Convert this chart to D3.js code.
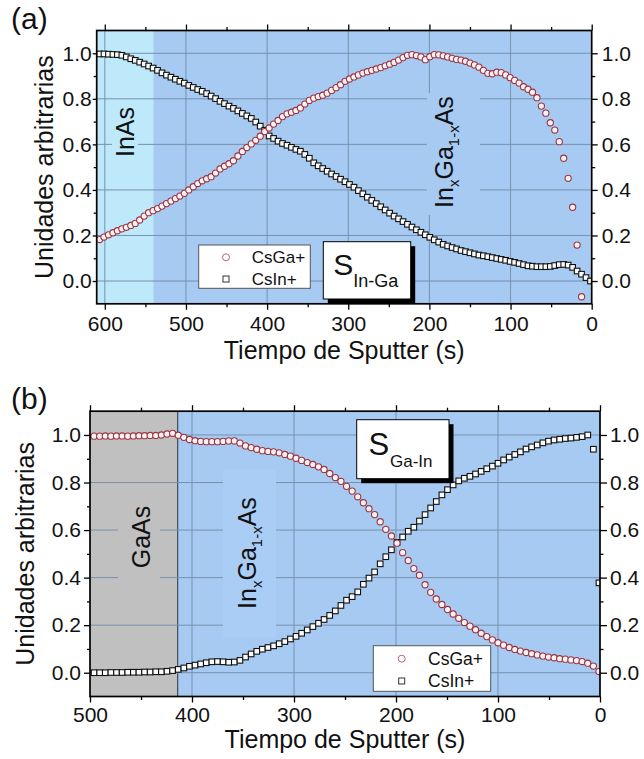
<!DOCTYPE html>
<html>
<head>
<meta charset="utf-8">
<script src="https://cdn.jsdelivr.net/npm/d3@7"></script>
<style>
body { margin: 0; background: #fff; }
svg text { font-family: "Liberation Sans", Arial, sans-serif; fill: #111; }
</style>
</head>
<body>
<script>
var w = 644;
var h = 759;

// ---- data, panel (a): In on Ga ----
var tA = [606.5, 601, 595.5, 590, 584.5, 579, 573.5, 568, 562.5, 557,
  551.5, 546, 540.5, 535, 529.5, 524, 518.5, 513, 507.5, 502,
  496.5, 491, 485.5, 480, 474.5, 469, 463.5, 458, 452.5, 447,
  441.5, 436, 430.5, 425, 419.5, 414, 408.5, 403, 397.5, 392,
  386.5, 381, 375.5, 370, 364.5, 359, 353.5, 348, 342.5, 337,
  331.5, 326, 320.5, 315, 309.5, 304, 298.5, 293, 287.5, 282,
  276.5, 271, 265.5, 260, 254.5, 249, 243.5, 238, 232.5, 227,
  221.5, 216, 210.5, 205, 199.5, 194, 188.5, 183, 177.5, 172,
  166.5, 161, 155.5, 150, 144.5, 139, 133.5, 128, 122.5, 117,
  111.5, 106, 100.5, 95, 89.5, 84, 78.5, 73, 67.5, 62,
  56.5, 51, 45.5, 40, 34.5, 29, 23.5, 18, 12.5, 7, 1.5];
var gaA = [0.182, 0.193, 0.203, 0.212, 0.221, 0.229, 0.236, 0.244, 0.253, 0.268,
  0.285, 0.300, 0.309, 0.318, 0.329, 0.340, 0.351, 0.362, 0.373, 0.385,
  0.400, 0.414, 0.428, 0.440, 0.449, 0.458, 0.474, 0.492, 0.504, 0.515,
  0.528, 0.549, 0.569, 0.586, 0.602, 0.618, 0.636, 0.656, 0.672, 0.689,
  0.705, 0.722, 0.734, 0.741, 0.749, 0.760, 0.777, 0.793, 0.803, 0.810,
  0.816, 0.825, 0.837, 0.849, 0.862, 0.877, 0.887, 0.896, 0.905, 0.913,
  0.919, 0.925, 0.931, 0.937, 0.945, 0.952, 0.960, 0.970, 0.981, 0.991,
  0.994, 0.990, 0.984, 0.972, 0.985, 0.994, 0.993, 0.989, 0.984, 0.978,
  0.973, 0.970, 0.965, 0.957, 0.949, 0.939, 0.925, 0.912, 0.910, 0.917,
  0.915, 0.905, 0.893, 0.881, 0.869, 0.853, 0.842, 0.829, 0.805, 0.768,
  0.737, 0.695, 0.663, 0.612, 0.539, 0.451, 0.324, 0.158, -0.069, null, null];
var inA = [0.997, 0.997, 0.996, 0.995, 0.994, 0.991, 0.984, 0.976, 0.969, 0.961,
  0.953, 0.944, 0.935, 0.925, 0.914, 0.904, 0.895, 0.886, 0.877, 0.869,
  0.859, 0.850, 0.841, 0.833, 0.823, 0.812, 0.801, 0.789, 0.779, 0.768,
  0.758, 0.747, 0.736, 0.725, 0.714, 0.698, 0.680, 0.662, 0.637, 0.626,
  0.614, 0.604, 0.596, 0.587, 0.578, 0.570, 0.556, 0.539, 0.519, 0.506,
  0.494, 0.482, 0.470, 0.459, 0.447, 0.436, 0.424, 0.412, 0.397, 0.383,
  0.368, 0.354, 0.340, 0.326, 0.312, 0.298, 0.285, 0.273, 0.261, 0.249,
  0.237, 0.225, 0.214, 0.203, 0.192, 0.181, 0.171, 0.161, 0.154, 0.147,
  0.141, 0.134, 0.129, 0.124, 0.119, 0.114, 0.111, 0.107, 0.103, 0.099,
  0.095, 0.091, 0.086, 0.082, 0.077, 0.072, 0.067, 0.065, 0.063, 0.063,
  0.063, 0.064, 0.068, 0.072, 0.073, 0.070, 0.060, 0.044, 0.030, 0.015, 0.000];

// ---- data, panel (b): Ga on In ----
var tB = [496, 490.5, 485, 479.5, 474, 468.5, 463, 457.5, 452, 446.5,
  441, 435.5, 430, 424.5, 419, 413.5, 408, 402.5, 397, 391.5,
  386, 380.5, 375, 369.5, 364, 358.5, 353, 347.5, 342, 336.5,
  331, 325.5, 320, 314.5, 309, 303.5, 298, 292.5, 287, 281.5,
  276, 270.5, 265, 259.5, 254, 248.5, 243, 237.5, 232, 226.5,
  221, 215.5, 210, 204.5, 199, 193.5, 188, 182.5, 177, 171.5,
  166, 160.5, 155, 149.5, 144, 138.5, 133, 127.5, 122, 116.5,
  111, 105.5, 100, 94.5, 89, 83.5, 78, 72.5, 67, 61.5,
  56, 50.5, 45, 39.5, 34, 28.5, 23, 17.5, 12, 6.5, 1];
var gaB = [0.995, 0.995, 0.996, 0.995, 0.996, 0.996, 0.995, 0.996, 0.997, 0.997,
  0.998, 0.998, 1.000, 1.004, 1.007, 0.999, 0.990, 0.981, 0.976, 0.973,
  0.972, 0.972, 0.972, 0.973, 0.975, 0.975, 0.966, 0.954, 0.947, 0.940,
  0.934, 0.931, 0.929, 0.925, 0.918, 0.911, 0.902, 0.893, 0.884, 0.876,
  0.866, 0.855, 0.838, 0.821, 0.805, 0.784, 0.764, 0.740, 0.715, 0.690,
  0.665, 0.635, 0.603, 0.575, 0.545, 0.505, 0.472, 0.438, 0.410, 0.370,
  0.338, 0.310, 0.287, 0.266, 0.247, 0.229, 0.211, 0.196, 0.181, 0.166,
  0.152, 0.138, 0.126, 0.116, 0.106, 0.098, 0.091, 0.085, 0.080, 0.075,
  0.070, 0.066, 0.063, 0.059, 0.057, 0.054, 0.051, 0.047, 0.040, 0.028, 0.005];
var inB = [0.000, 0.000, 0.000, 0.001, 0.001, 0.001, 0.002, 0.002, 0.002, 0.003,
  0.003, 0.004, 0.004, 0.006, 0.009, 0.014, 0.020, 0.027, 0.032, 0.037,
  0.042, 0.046, 0.047, 0.046, 0.044, 0.045, 0.052, 0.066, 0.079, 0.090,
  0.099, 0.106, 0.113, 0.122, 0.131, 0.142, 0.153, 0.166, 0.180, 0.194,
  0.208, 0.224, 0.241, 0.260, 0.283, 0.305, 0.320, 0.340, 0.372, 0.398,
  0.424, 0.458, 0.488, 0.517, 0.548, 0.571, 0.595, 0.612, 0.638, 0.665,
  0.693, 0.720, 0.748, 0.770, 0.790, 0.807, 0.818, 0.826, 0.836, 0.847,
  0.858, 0.869, 0.881, 0.895, 0.907, 0.918, 0.929, 0.941, 0.950, 0.958,
  0.967, 0.974, 0.979, 0.982, 0.985, 0.987, 0.990, 0.993, 1.000, 0.940, 0.378];

// ticks
var xTicksA = [600, 500, 400, 300, 200, 100, 0];
var xMinorA = [550, 450, 350, 250, 150, 50];
var xTicksB = [500, 400, 300, 200, 100, 0];
var xMinorB = [450, 350, 250, 150, 50];
var yTicks = [0, 0.2, 0.4, 0.6, 0.8, 1.0];
var yMinor = [0.1, 0.3, 0.5, 0.7, 0.9];
var seriesNames = ['CsGa+', 'CsIn+'];

var bgBlue = '#a6caf2';
var gridColor = '#7890ad';
var circleStroke = '#9c3442';

var svg = d3.select('body').append('svg').attr('width', w).attr('height', h);

var panelA = {
  id: 'a', letter: '(a)', letterY: 29,
  left: 96.7, right: 591.7, top: 30.5, bottom: 303.8, xMax: 610,
  xTicks: xTicksA, xMinor: xMinorA,
  regionEnd: 540, regionColor: '#bde9fb', regionLine: false,
  leftTick: 4, leftPad: 1, rightTick: 6, rightPad: 4, bottomPad: 6,
  xTitleY: 359, yTitleX: 53,
  boxes: [
    { x: 112, y: 103, w: 26, h: 60, fill: '#bde9fb' },
    { x: 427, y: 93, w: 53, h: 122, fill: bgBlue }
  ],
  mat: { text: 'InAs', x: 134, y: 132 },
  alloy: { x: 453, y: 152 },
  sbox: { x: 323.3, y: 241.7, w: 87.4, h: 57.3, sx: 333.3, sy: 275, ss: 30, sub: 'In-Ga', bx: 353.3, by: 287.3, bs: 18 },
  legend: { x: 198.7, y: 245, w: 111.6, h: 43.3, mx: 226, tx: 251.7, y1: 257.3, y2: 279, fs: 17 }
};

var panelB = {
  id: 'b', letter: '(b)', letterY: 409,
  left: 90, right: 600, top: 411.2, bottom: 696.5, xMax: 500,
  xTicks: xTicksB, xMinor: xMinorB,
  regionEnd: 414, regionColor: '#c0c0c0', regionLine: true,
  leftTick: 6, leftPad: 3, rightTick: 7, rightPad: 3, bottomPad: 5,
  xTitleY: 748, yTitleX: 33.5,
  boxes: [
    { x: 118, y: 490, w: 42, h: 122, fill: '#c0c0c0' },
    { x: 223, y: 470, w: 53, h: 168, fill: '#a9cdf5' }
  ],
  mat: { text: 'GaAs', x: 149.5, y: 537 },
  alloy: { x: 256, y: 553 },
  sbox: { x: 356.7, y: 419.7, w: 92.3, h: 59, sx: 368.5, sy: 454.7, ss: 31, sub: 'Ga-In', bx: 390, by: 467.3, bs: 17 },
  legend: { x: 373.3, y: 645.7, w: 117.4, h: 45.6, mx: 401.7, tx: 428, y1: 658.7, y2: 681, fs: 17.5 }
};

function rotText(g, x, y, size) {
  return g.append('text')
    .attr('transform', 'translate(' + x + ',' + y + ') rotate(-90)')
    .attr('text-anchor', 'middle')
    .style('font-size', size + 'px');
}

function styleAxis(sel, size) {
  sel.select('.domain').remove();
  sel.selectAll('.tick line').style('stroke', '#000').style('stroke-width', 1.3);
  sel.selectAll('.tick text').style('font-size', size + 'px').style('fill', '#111')
    .style('font-family', '"Liberation Sans", Arial, sans-serif');
}

function drawPanel(p, tArr, gaArr, inArr) {
  var g = svg.append('g');
  var x = d3.scaleLinear().domain([p.xMax, 0]).range([p.left, p.right]);
  var y = d3.scaleLinear().domain([-0.1, 1.1]).range([p.bottom, p.top]);
  var pw = p.right - p.left, ph = p.bottom - p.top;

  // background + substrate region
  g.append('rect').attr('x', p.left).attr('y', p.top).attr('width', pw).attr('height', ph)
    .style('fill', bgBlue);
  g.append('rect').attr('x', p.left).attr('y', p.top).attr('width', x(p.regionEnd) - p.left)
    .attr('height', ph).style('fill', p.regionColor);
  if (p.regionLine) {
    g.append('line').attr('x1', x(p.regionEnd)).attr('x2', x(p.regionEnd))
      .attr('y1', p.top).attr('y2', p.bottom).style('stroke', '#2a3440').style('stroke-width', 1);
  }

  // grid
  g.selectAll('line.gx').data(p.xTicks.filter(function (d) { return d > 0 && d < p.xMax; }))
    .enter().append('line').attr('class', 'gx')
    .attr('x1', function (d) { return x(d); }).attr('x2', function (d) { return x(d); })
    .attr('y1', p.top).attr('y2', p.bottom)
    .style('stroke', gridColor).style('stroke-width', 1);
  g.selectAll('line.gy').data(yTicks).enter().append('line').attr('class', 'gy')
    .attr('x1', p.left).attr('x2', p.right)
    .attr('y1', function (d) { return y(d); }).attr('y2', function (d) { return y(d); })
    .style('stroke', gridColor).style('stroke-width', 1);

  // label backgrounds
  p.boxes.forEach(function (b) {
    g.append('rect').attr('x', b.x).attr('y', b.y).attr('width', b.w).attr('height', b.h)
      .style('fill', b.fill);
  });

  // layer labels
  rotText(g, p.mat.x, p.mat.y, 25).text(p.mat.text);
  var al = rotText(g, p.alloy.x, p.alloy.y, 25);
  al.append('tspan').text('In');
  al.append('tspan').attr('dy', 6).style('font-size', '15px').text('x');
  al.append('tspan').attr('dy', -6).text('Ga');
  al.append('tspan').attr('dy', 6).style('font-size', '15px').text('1-x');
  al.append('tspan').attr('dy', -6).text('As');

  // data points
  svg.append('clipPath').attr('id', 'clip' + p.id).append('rect')
    .attr('x', p.left).attr('y', p.top).attr('width', pw).attr('height', ph);
  var pts = g.append('g').attr('clip-path', 'url(#clip' + p.id + ')');
  var inPts = d3.zip(tArr, inArr).filter(function (d) { return d[1] !== null; });
  var gaPts = d3.zip(tArr, gaArr).filter(function (d) { return d[1] !== null; });
  pts.selectAll('rect.sq').data(inPts).enter().append('rect').attr('class', 'sq')
    .attr('x', function (d) { return x(d[0]) - 2.8; })
    .attr('y', function (d) { return y(d[1]) - 2.8; })
    .attr('width', 5.6).attr('height', 5.6)
    .style('fill', '#fcfcfc').style('stroke', '#111').style('stroke-width', 1.1);
  pts.selectAll('circle.ci').data(gaPts).enter().append('circle').attr('class', 'ci')
    .attr('cx', function (d) { return x(d[0]); })
    .attr('cy', function (d) { return y(d[1]); })
    .attr('r', 3.1)
    .style('fill', '#fff2f2').style('stroke', circleStroke).style('stroke-width', 1.1);

  // S label box with shadow
  var s = p.sbox;
  g.append('rect').attr('x', s.x + 4.5).attr('y', s.y + 4.5).attr('width', s.w).attr('height', s.h)
    .style('fill', '#000');
  g.append('rect').attr('x', s.x).attr('y', s.y).attr('width', s.w).attr('height', s.h)
    .style('fill', '#fff').style('stroke', '#000').style('stroke-width', 1);
  g.append('text').attr('x', s.sx).attr('y', s.sy).style('font-size', s.ss + 'px').text('S');
  g.append('text').attr('x', s.bx).attr('y', s.by).style('font-size', s.bs + 'px').text(s.sub);

  // legend
  var L = p.legend;
  g.append('rect').attr('x', L.x).attr('y', L.y).attr('width', L.w).attr('height', L.h)
    .style('fill', '#fff').style('stroke', '#555').style('stroke-width', 1);
  g.append('circle').attr('cx', L.mx).attr('cy', L.y1).attr('r', 3.5)
    .style('fill', '#fff').style('stroke', '#c06070').style('stroke-width', 1);
  g.append('rect').attr('x', L.mx - 3).attr('y', L.y2 - 3).attr('width', 6).attr('height', 6)
    .style('fill', '#fff').style('stroke', '#333').style('stroke-width', 1);
  g.append('text').attr('x', L.tx).attr('y', L.y1 + 6).style('font-size', L.fs + 'px').text(seriesNames[0]);
  g.append('text').attr('x', L.tx).attr('y', L.y2 + 6).style('font-size', L.fs + 'px').text(seriesNames[1]);

  // axes
  var fmtY = d3.format('.1f');
  g.append('g').attr('transform', 'translate(0,' + p.bottom + ')')
    .call(d3.axisBottom(x).tickValues(p.xTicks).tickSize(6).tickPadding(p.bottomPad).tickFormat(d3.format('d')))
    .call(styleAxis, 21);
  g.append('g').attr('transform', 'translate(0,' + p.bottom + ')')
    .call(d3.axisBottom(x).tickValues(p.xMinor).tickSize(3.5).tickFormat(''))
    .call(styleAxis, 21);
  g.append('g').attr('transform', 'translate(0,' + p.top + ')')
    .call(d3.axisTop(x).tickValues(p.xTicks).tickSize(6).tickFormat(''))
    .call(styleAxis, 21);
  g.append('g').attr('transform', 'translate(0,' + p.top + ')')
    .call(d3.axisTop(x).tickValues(p.xMinor).tickSize(3.5).tickFormat(''))
    .call(styleAxis, 21);
  g.append('g').attr('transform', 'translate(' + p.left + ',0)')
    .call(d3.axisLeft(y).tickValues(yTicks).tickSize(p.leftTick).tickPadding(p.leftPad).tickFormat(fmtY))
    .call(styleAxis, 21);
  g.append('g').attr('transform', 'translate(' + p.left + ',0)')
    .call(d3.axisLeft(y).tickValues(yMinor).tickSize(3).tickFormat(''))
    .call(styleAxis, 21);
  g.append('g').attr('transform', 'translate(' + p.right + ',0)')
    .call(d3.axisRight(y).tickValues(yTicks).tickSize(p.rightTick).tickPadding(p.rightPad).tickFormat(fmtY))
    .call(styleAxis, 21);
  g.append('g').attr('transform', 'translate(' + p.right + ',0)')
    .call(d3.axisRight(y).tickValues(yMinor).tickSize(3.5).tickFormat(''))
    .call(styleAxis, 21);

  // frame
  g.append('rect').attr('x', p.left).attr('y', p.top).attr('width', pw).attr('height', ph)
    .style('fill', 'none').style('stroke', '#000').style('stroke-width', 1.7);

  // titles
  g.append('text').attr('x', (p.left + p.right) / 2).attr('y', p.xTitleY)
    .attr('text-anchor', 'middle').style('font-size', '25px').text('Tiempo de Sputter (s)');
  rotText(g, p.yTitleX, (p.top + p.bottom) / 2, 25).text('Unidades arbitrarias');
  g.append('text').attr('x', 11).attr('y', p.letterY).style('font-size', '30px').text(p.letter);
}

drawPanel(panelA, tA, gaA, inA);
drawPanel(panelB, tB, gaB, inB);
</script>
</body>
</html>
